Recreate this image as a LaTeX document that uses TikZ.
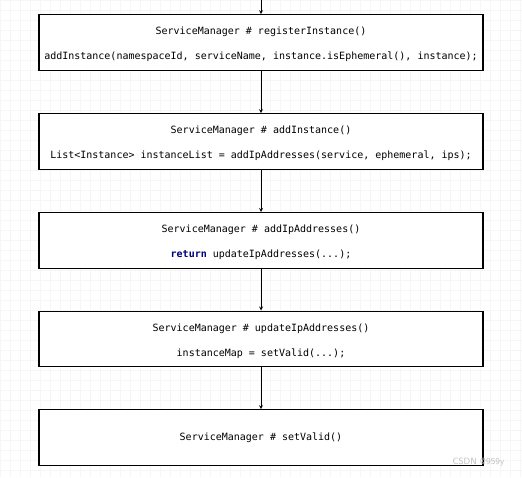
\documentclass[tikz,border=0pt]{standalone}
\usepackage{fontspec}
\setmonofont{DejaVu Sans Mono}
\usepackage{xcolor}
\usepackage{tikz}
\usetikzlibrary{positioning, arrows}

\definecolor{gridgray}{RGB}{246,246,246}
\definecolor{keyblue}{RGB}{0,0,128}
\newcommand{\codefont}{\ttfamily\fontsize{10}{12}\selectfont}
\newcommand{\topstrut}{\rule{0pt}{12pt}}
\tikzset{
	callbox/.style={draw, line width=1.1pt, fill=white, minimum width=444pt, minimum height=55.5pt, align=center, inner sep=0pt, font=\codefont},
}

\begin{document}
\begin{tikzpicture}[x=1pt,y=-1pt,->,>=stealth,line width=0.8pt]

		\useasboundingbox (0,0) rectangle (522,477);
		\fill[white] (0,0) rectangle (522,477);
		\draw[-,gridgray,line width=0.5pt,step=10pt] (0,0) grid (522,477);

		\coordinate (start) at (261, 0);
		\node[callbox] (register) at (261, 42.5) {\topstrut ServiceManager \# registerInstance()\\[13pt]addInstance(namespaceId, serviceName, instance.isEphemeral(), instance);};
		\node[callbox] (addinst) at (261, 141.5) {\topstrut ServiceManager \# addInstance()\\[13pt]List<Instance> instanceList = addIpAddresses(service, ephemeral, ips);};
		\node[callbox] (addips) at (261, 240.3) {\topstrut ServiceManager \# addIpAddresses()\\[13pt]{\color{keyblue}\bfseries return} updateIpAddresses(...);};
		\node[callbox] (updateips) at (261, 338.8) {\topstrut ServiceManager \# updateIpAddresses()\\[13pt]instanceMap = setValid(...);};
		\node[callbox] (setvalid) at (261, 437.5) {ServiceManager \# setValid()};

		\path (start) edge node {} (register);
		\path (register) edge node {} (addinst);
		\path (addinst) edge node {} (addips);
		\path (addips) edge node {} (updateips);
		\path (updateips) edge node {} (setvalid);

		\node[gray!50, font=\sffamily\fontsize{9}{10}\selectfont, anchor=east] (mark) at (508, 462) {CSDN @959y};

	\end{tikzpicture}
\end{document}
